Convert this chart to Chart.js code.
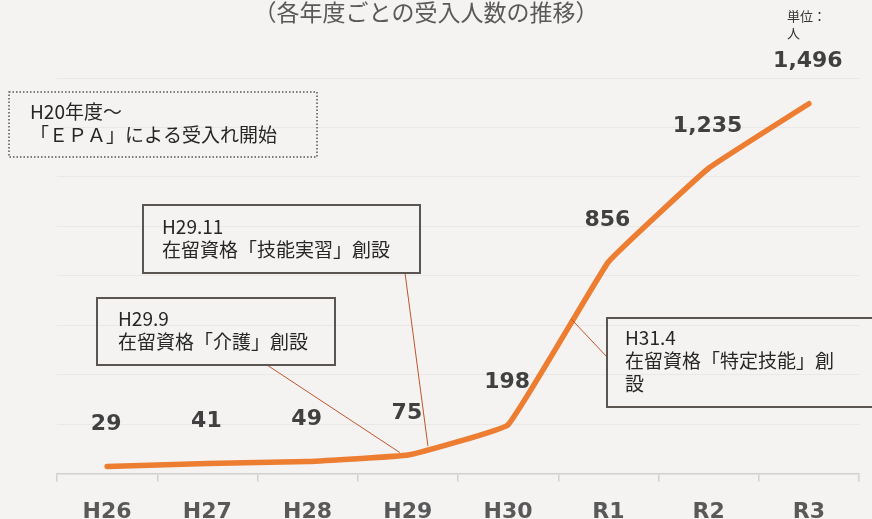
<!DOCTYPE html>
<html>
<head>
<meta charset="utf-8">
<script src="https://cdn.jsdelivr.net/npm/chart.js@4.4.1/dist/chart.umd.min.js"></script>
<style>
  html, body { margin: 0; padding: 0; background: #f4f3f2; }
  #wrap { width: 872px; height: 519px; position: relative; overflow: hidden; }
</style>
</head>
<body>
<div id="wrap"><canvas id="acceptChart" width="872" height="542"></canvas></div>
<script>
// data
const years = ['H26', 'H27', 'H28', 'H29', 'H30', 'R1', 'R2', 'R3'];
const accepted = [29, 41, 49, 75, 198, 856, 1235, 1496];
const yTicks = [0, 200, 400, 600, 800, 1000, 1200, 1400, 1600];

const titleText = '（各年度ごとの受入人数の推移）';
const unitLines = ['単位：', '人'];

// callout boxes (layout only); anchor = point index + fraction toward next point
const notes = [
    { lines: ['H20年度～', '「ＥＰＡ」による受入れ開始'], box: [9, 92, 308, 65], text: [30, 112], dotted: true },
    { lines: ['H29.11', '在留資格「技能実習」創設'], box: [143, 205, 277, 68], text: [162, 227], from: [405, 273], anchor: [3, 0.2] },
    { lines: ['H29.9', '在留資格「介護」創設'], box: [97, 298, 238, 67], text: [118, 319], from: [267, 365], anchor: [2, 0.92] },
    { lines: ['H31.4', '在留資格「特定技能」創', '設'], box: [607, 318, 270, 89], text: [625, 338], from: [607, 357], anchor: [4, 0.63] }
];

const jpFont = '"Noto Sans CJK JP", "Noto Sans", sans-serif';

const decorPlugin = {
    id: 'decor',
    beforeDraw(chart) {
        const ctx = chart.ctx;
        ctx.save();
        ctx.fillStyle = '#f4f3f2';
        ctx.fillRect(0, 0, chart.width, chart.height);
        ctx.restore();
    },
    afterDatasetsDraw(chart) {
        const ctx = chart.ctx;
        const meta = chart.getDatasetMeta(0);
        ctx.save();

        // value labels above points
        ctx.font = 'bold 22px "DejaVu Sans", Verdana, sans-serif';
        ctx.fillStyle = '#404040';
        ctx.textAlign = 'center';
        ctx.textBaseline = 'middle';
        meta.data.forEach(function (pt, i) {
            ctx.fillText(accepted[i].toLocaleString('en-US'), pt.x - 1, pt.y - 42);
        });

        // title and unit
        ctx.font = '23px ' + jpFont;
        ctx.fillStyle = '#595959';
        ctx.fillText(titleText, 426, 12);
        ctx.font = '13px ' + jpFont;
        ctx.fillStyle = '#333333';
        ctx.textAlign = 'left';
        ctx.fillText(unitLines[0], 787, 16);
        ctx.fillText(unitLines[1], 787, 33);

        // callouts
        notes.forEach(function (n) {
            if (n.anchor) {
                const a = meta.data[n.anchor[0]];
                const b = meta.data[n.anchor[0] + 1];
                const f = n.anchor[1];
                ctx.beginPath();
                ctx.strokeStyle = '#c0562b';
                ctx.lineWidth = 1;
                ctx.moveTo(n.from[0], n.from[1]);
                ctx.lineTo(a.x + (b.x - a.x) * f, a.y + (b.y - a.y) * f - 3);
                ctx.stroke();
            }
            ctx.beginPath();
            ctx.strokeStyle = n.dotted ? '#555555' : '#5a5550';
            ctx.lineWidth = n.dotted ? 1.5 : 2;
            ctx.setLineDash(n.dotted ? [1.5, 2] : []);
            ctx.rect(n.box[0], n.box[1], n.box[2], n.box[3]);
            ctx.stroke();
            ctx.setLineDash([]);
            ctx.font = '19px ' + jpFont;
            ctx.fillStyle = '#262626';
            ctx.textAlign = 'left';
            n.lines.forEach(function (line, k) {
                ctx.fillText(line, n.text[0], n.text[1] + k * 23);
            });
        });
        ctx.restore();
    }
};

const ctx = document.getElementById('acceptChart').getContext('2d');
new Chart(ctx, {
    type: 'line',
    data: {
        labels: years,
        datasets: [{
            data: accepted,
            borderColor: '#ed7d31',
            borderWidth: 5.5,
            borderCapStyle: 'round',
            borderJoinStyle: 'round',
            tension: 0.08,
            pointRadius: 0,
            fill: false
        }]
    },
    options: {
        responsive: false,
        animation: false,
        layout: { padding: { left: 57, right: 13, top: 78, bottom: 0 } },
        plugins: { legend: { display: false }, tooltip: { enabled: false } },
        scales: {
            x: {
                offset: true,
                grid: {
                    offset: true,
                    drawOnChartArea: false,
                    drawTicks: true,
                    tickLength: 8,
                    color: '#d2d1d0',
                    lineWidth: 1.5
                },
                border: { color: '#d2d1d0', width: 1.5 },
                ticks: {
                    color: '#595959',
                    padding: 17,
                    font: { family: '"DejaVu Sans", Verdana, sans-serif', size: 22, weight: 'bold' }
                }
            },
            y: {
                min: yTicks[0],
                max: yTicks[yTicks.length - 1],
                afterBuildTicks(scale) {
                    scale.ticks = yTicks.map(function (v) { return { value: v }; });
                },
                grid: { color: 'rgba(0,0,0,0.045)', drawTicks: false },
                border: { display: false },
                ticks: { display: false }
            }
        }
    },
    plugins: [decorPlugin]
});
</script>
</body>
</html>
